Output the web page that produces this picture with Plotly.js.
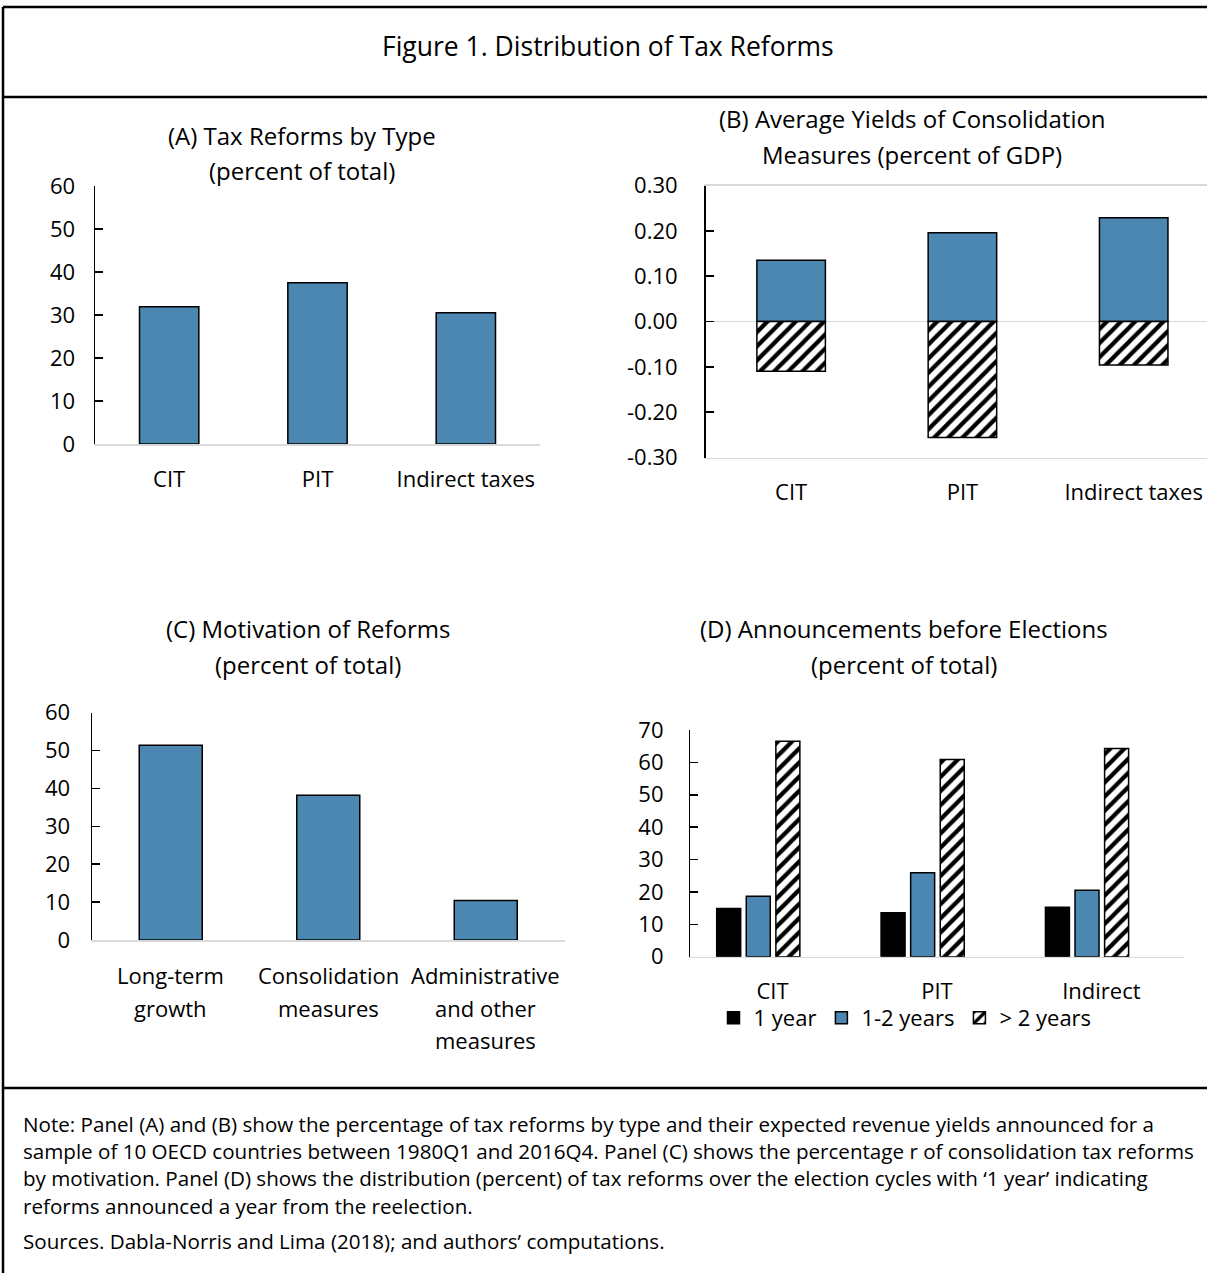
<!DOCTYPE html>
<html>
<head>
<meta charset="utf-8">
<script src="https://cdn.plot.ly/plotly-3.0.1.min.js"></script>
<style>
html,body{margin:0;padding:0;overflow:hidden;background:#fff;}
#chart{width:1207px;height:1273px;}
</style>
</head>
<body>
<div id="chart"></div>
<script>
// ---------- data ----------
const catsA = ["CIT", "PIT", "Indirect taxes"];
const valsA = [31.9, 37.5, 30.5];

const catsB = ["CIT", "PIT", "Indirect taxes"];
const yieldsPos = [0.135, 0.196, 0.229];
const yieldsNeg = [-0.110, -0.256, -0.096];
const tickValsB = [0.30, 0.20, 0.10, 0.00, -0.10, -0.20, -0.30];
const tickTextB = ["0.30", "0.20", "0.10", "0.00", "-0.10", "-0.20", "-0.30"];

const catsC = ["Long-term<br>growth", "Consolidation<br>measures", "Administrative<br>and other<br>measures"];
const valsC = [51.4, 38.2, 10.4];

const catsD = ["CIT", "PIT", "Indirect"];
const oneYear = [14.9, 13.6, 15.3];
const oneTwoYears = [18.7, 25.9, 20.5];
const overTwoYears = [66.5, 60.9, 64.3];
const seriesNamesD = ["1 year", "1-2 years", "> 2 years"];

const mainTitle = "Figure 1. Distribution of Tax Reforms";
const panelTitles = [
  ["(A) Tax Reforms by Type", "(percent of total)"],
  ["(B) Average Yields of Consolidation", "Measures (percent of GDP)"],
  ["(C) Motivation of Reforms", "(percent of total)"],
  ["(D) Announcements before Elections", "(percent of total)"]
];
const noteLines = [
  "Note: Panel (A) and (B) show the percentage of tax reforms by type and their expected revenue yields announced for a",
  "sample of 10 OECD countries between 1980Q1 and 2016Q4. Panel (C) shows the percentage r of consolidation tax reforms",
  "by motivation. Panel (D) shows the distribution (percent) of tax reforms over the election cycles with \u20181 year\u2019 indicating",
  "reforms announced a year from the reelection."
];
const sourceLine = "Sources. Dabla-Norris and Lima (2018); and authors\u2019 computations.";

// ---------- styles ----------
const W = 1207, H = 1273;
const FONT = "Open Sans, Noto Sans, sans-serif";
const BLUE = "#4B87B0";
const px = v => v / W;
const py = v => 1 - v / H;
const hatch = {shape: "/", fgcolor: "black", bgcolor: "white", size: 10, solidity: 0.42, fillmode: "replace"};
const outline = {color: "black", width: 1.5};

const traces = [
  {type: "bar", x: catsA, y: valsA, xaxis: "x", yaxis: "y", marker: {color: BLUE, line: outline}, showlegend: false, hoverinfo: "none"},
  {type: "bar", x: catsB, y: yieldsPos, xaxis: "x2", yaxis: "y2", offsetgroup: "b", marker: {color: BLUE, line: outline}, showlegend: false, hoverinfo: "none"},
  {type: "bar", x: catsB, y: yieldsNeg, xaxis: "x2", yaxis: "y2", offsetgroup: "b", marker: {color: "white", pattern: hatch, line: outline}, showlegend: false, hoverinfo: "none"},
  {type: "bar", x: catsC, y: valsC, xaxis: "x3", yaxis: "y3", marker: {color: BLUE, line: outline}, showlegend: false, hoverinfo: "none"},
  {type: "bar", name: seriesNamesD[0], x: catsD, y: oneYear, xaxis: "x4", yaxis: "y4", width: 0.146, offset: -0.34, marker: {color: "black", line: outline}, hoverinfo: "none"},
  {type: "bar", name: seriesNamesD[1], x: catsD, y: oneTwoYears, xaxis: "x4", yaxis: "y4", width: 0.146, offset: -0.16, marker: {color: BLUE, line: outline}, hoverinfo: "none"},
  {type: "bar", name: seriesNamesD[2], x: catsD, y: overTwoYears, xaxis: "x4", yaxis: "y4", width: 0.146, offset: 0.02, marker: {color: "white", pattern: hatch, line: outline}, hoverinfo: "none"}
];

const tickF = {family: FONT, size: 22, color: "black"};
function xAx(domain, range, yanchor, extra) {
  return Object.assign({
    domain: domain, range: range, anchor: yanchor, type: "category",
    showline: true, linecolor: "#d9d9d9", linewidth: 1.5,
    ticks: "", showgrid: false, zeroline: false,
    tickfont: tickF, ticklabelstandoff: 15, fixedrange: true
  }, extra || {});
}
function yAx(domain, range, dtick, xanchor, extra) {
  return Object.assign({
    domain: domain, range: range, dtick: dtick, anchor: xanchor,
    showline: true, linecolor: "black", linewidth: 1.5,
    ticks: "inside", ticklen: 8, tickwidth: 1.5, tickcolor: "black",
    showgrid: false, zeroline: false,
    tickfont: tickF, ticklabelstandoff: 14, fixedrange: true
  }, extra || {});
}

const annotations = [];
function txt(text, x, y, size, anchor) {
  annotations.push({text: text, x: x, y: y, xref: "paper", yref: "paper",
    xanchor: anchor || "center", yanchor: "middle", showarrow: false,
    font: {family: FONT, size: size, color: "black"}});
}
txt(mainTitle, px(608), py(46), 26.5);
const titlePos = [[301.5, 135, 171], [912, 119, 155], [308, 628, 664], [904, 629, 665]];
panelTitles.forEach((t, i) => {
  txt(t[0], px(titlePos[i][0]), py(titlePos[i][1]), 24);
  txt(t[1], px(titlePos[i][0]), py(titlePos[i][2]), 24);
});
const noteY = [1124, 1151, 1178, 1206];
noteLines.forEach((l, i) => txt(l, px(21), py(noteY[i]), 20.6, "left"));
txt(sourceLine, px(21), py(1241), 20.6, "left");

// Panel C category labels: one annotation per line (wider line spacing than tick labels allow)
catsC.forEach(cat => {
  cat.split("<br>").forEach((line, j) => {
    annotations.push({text: line, x: cat, xref: "x3", y: py(975 + 32.5 * j), yref: "paper",
      xanchor: "center", yanchor: "middle", showarrow: false, font: tickF});
  });
});

const borderLine = {color: "black", width: 2.5};
const shapes = [
  {type: "line", xref: "paper", yref: "paper", x0: px(3), x1: 1.01, y0: py(7), y1: py(7), line: borderLine},
  {type: "line", xref: "paper", yref: "paper", x0: px(3), x1: 1.01, y0: py(97), y1: py(97), line: borderLine},
  {type: "line", xref: "paper", yref: "paper", x0: px(3), x1: 1.01, y0: py(1088), y1: py(1088), line: borderLine},
  {type: "line", xref: "paper", yref: "paper", x0: px(3), x1: px(3), y0: py(7), y1: -0.01, line: borderLine}
];

const layout = {
  width: W, height: H,
  margin: {l: 0, r: 0, t: 0, b: 0, pad: 0},
  paper_bgcolor: "white", plot_bgcolor: "rgba(0,0,0,0)",
  font: {family: FONT, color: "black"},
  barmode: "group", bargap: 0.6,
  xaxis: xAx([px(95), px(540)], [-0.5, 2.5], "y"),
  yaxis: yAx([py(444), py(186)], [0, 60], 10, "x"),
  xaxis2: xAx([px(705.5), 1], [-0.5, 2.428], "y2", {mirror: true}),
  yaxis2: yAx([py(457.5), py(185.5)], [-0.3, 0.3], 0.1, "x2",
    {tickmode: "array", tickvals: tickValsB, ticktext: tickTextB, zeroline: true, zerolinecolor: "#d9d9d9", zerolinewidth: 1.5, ticklabelstandoff: 22}),
  xaxis3: xAx([px(92), px(564.5)], [-0.5, 2.5], "y3", {showticklabels: false}),
  yaxis3: yAx([py(940), py(712.7)], [0, 60], 10, "x3", {ticklabelstandoff: 16}),
  xaxis4: xAx([px(690.4), px(1183.5)], [-0.5, 2.5], "y4", {ticklabelstandoff: 14}),
  yaxis4: yAx([py(956.7), py(730)], [0, 70], 10, "x4", {ticklabelstandoff: 21}),
  showlegend: true,
  legend: {orientation: "h", x: px(905), xanchor: "center", y: py(1018), yanchor: "middle",
    font: {family: FONT, size: 22, color: "black"}, bgcolor: "rgba(0,0,0,0)", itemclick: false, itemdoubleclick: false},
  annotations: annotations,
  shapes: shapes
};

Plotly.newPlot("chart", traces, layout, {staticPlot: true, displayModeBar: false});
</script>
</body>
</html>
